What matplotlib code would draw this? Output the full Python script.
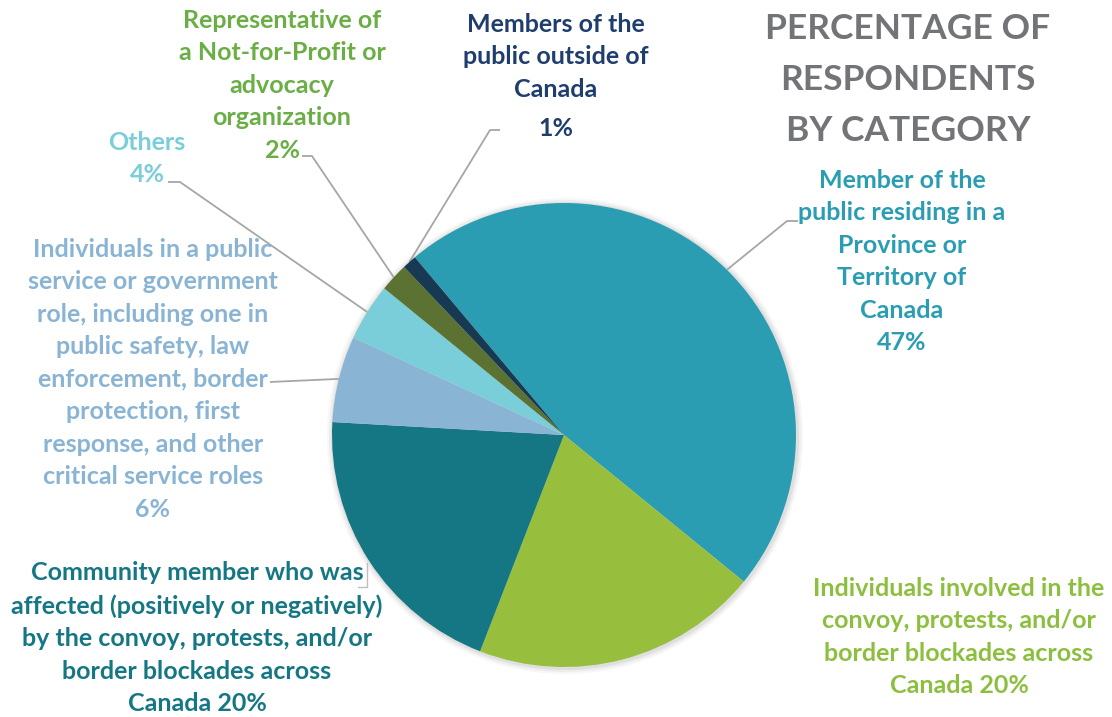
import numpy as np
import matplotlib
matplotlib.use('Agg')
import matplotlib.pyplot as plt
from matplotlib.patches import Circle

# Percentage of respondents by category
categories = [
    'Member of the\npublic residing in a\nProvince or\nTerritory of\nCanada',
    'Individuals involved in the\nconvoy, protests, and/or\nborder blockades across\nCanada',
    'Community member who was\naffected (positively or negatively)\nby the convoy, protests, and/or\nborder blockades across\nCanada',
    'Individuals in a public\nservice or government\nrole, including one in\npublic safety, law\nenforcement, border\nprotection, first\nresponse, and other\ncritical service roles',
    'Others',
    'Representative of\na Not-for-Profit or\nadvocacy\norganization',
    'Members of the\npublic outside of\nCanada',
]
values = [47, 20, 20, 6, 4, 2, 1]
pct_on_new_line = [True, False, False, True, True, True, True]

slice_colors = ['#2B9DB3', '#97BF3D', '#167784', '#8AB4D4', '#7ACED9', '#5B7232', '#173A52']
text_colors = ['#2B9DB3', '#8DBF3F', '#167784', '#8AB4D4', '#7ACED9', '#6AAE45', '#1F3E6E']

W, H = 1112, 717
FONT = 'Lato'

fig = plt.figure(figsize=(W / 100, H / 100), dpi=100)
ax = fig.add_axes([0, 0, 1, 1])

cx, cy, r = 564, H - 435, 232

# soft shadow behind the pie
for k, a in [(6, 0.03), (4, 0.04), (2, 0.06)]:
    ax.add_patch(Circle((cx + 1, cy - 1), r + k, color='black', alpha=a, lw=0, zorder=0))

wedges, _ = ax.pie(values, colors=slice_colors, startangle=130, counterclock=False,
                   center=(cx, cy), radius=r, frame=True,
                   wedgeprops=dict(linewidth=0, zorder=1))
ax.set_xlim(0, W)
ax.set_ylim(0, H)
ax.set_aspect('equal')
ax.axis('off')

# label anchor (x center, y of first line from top), gap before a separate % line
label_pos = [(902, 180), (959, 588), (197, 573), (153, 249), (147, 142), (282, 20), (556, 24)]
pct_gap = [32.6, 0, 0, 32.6, 32.6, 32.6, 39]
elbows = [
    [(787, 221), (798, 221)],
    None,
    None,
    [(270, 382)],
    [(180, 182), (168, 182)],
    [(312, 156), (302, 156)],
    [(490, 130), (500, 130)],
]

line_h = 32.6
style = dict(ha='center', va='center', ma='center', fontsize=18, fontweight='bold',
             family=FONT, linespacing=1.5)
for i, (lab, v) in enumerate(zip(categories, values)):
    txt = lab if pct_on_new_line[i] else lab + f' {v}%'
    n = txt.count('\n') + 1
    x, y = label_pos[i]
    yc = y + (n - 1) * line_h / 2
    ax.text(x, H - yc, txt, color=text_colors[i], **style)
    if pct_on_new_line[i]:
        yp = y + (n - 1) * line_h + pct_gap[i]
        ax.text(x, H - yp, f'{v}%', color=text_colors[i], **style)

# leader lines from wedge mid-angles
for w, el in zip(wedges, elbows):
    if el is None:
        continue
    mid = np.deg2rad((w.theta1 + w.theta2) / 2)
    pts = [(cx + r * np.cos(mid), cy + r * np.sin(mid))] + [(px, H - py) for px, py in el]
    xs, ys = zip(*pts)
    ax.plot(xs, ys, color='#A6A6A6', lw=1.3, solid_capstyle='butt', zorder=0.5)

# small bracket next to community label
ax.plot([358, 367, 367], [H - 587, H - 587, H - 563], color='#BFBFBF', lw=1.0)

ax.text(908, H - 80, 'PERCENTAGE OF\nRESPONDENTS\nBY CATEGORY', ha='center', va='center',
        color='#737478', fontsize=25.5, fontweight='bold', family=FONT, linespacing=1.72)

fig.savefig('out.png', dpi=100)
